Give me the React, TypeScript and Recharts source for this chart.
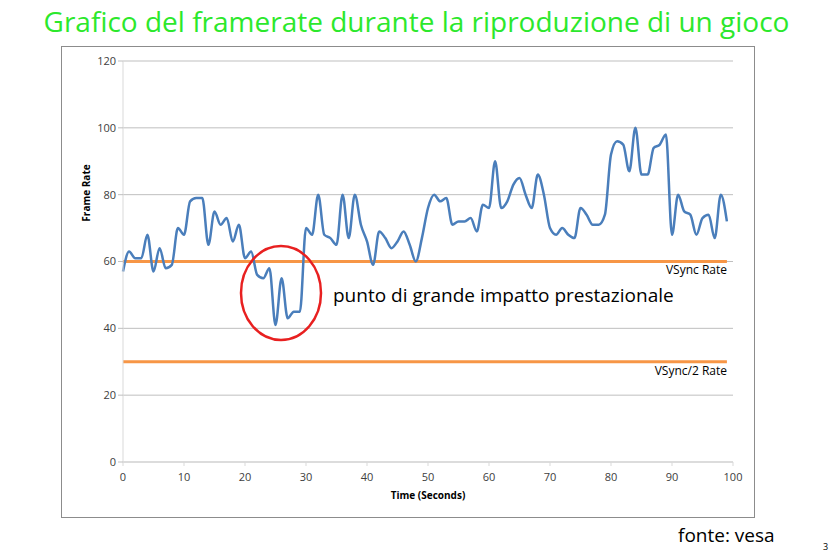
import { LineChart, Line, XAxis, YAxis, CartesianGrid, Label } from "recharts";

// time in seconds, one sample per second
const seconds = [
  0, 1, 2, 3, 4, 5, 6, 7, 8, 9, 10, 11, 12, 13, 14, 15, 16, 17, 18, 19,
  20, 21, 22, 23, 24, 25, 26, 27, 28, 29, 30, 31, 32, 33, 34, 35, 36, 37, 38, 39,
  40, 41, 42, 43, 44, 45, 46, 47, 48, 49, 50, 51, 52, 53, 54, 55, 56, 57, 58, 59,
  60, 61, 62, 63, 64, 65, 66, 67, 68, 69, 70, 71, 72, 73, 74, 75, 76, 77, 78, 79,
  80, 81, 82, 83, 84, 85, 86, 87, 88, 89, 90, 91, 92, 93, 94, 95, 96, 97, 98, 99,
];

const frameRate = [
  57, 63, 61, 61, 68, 57, 64, 58, 59, 70, 68, 78, 79, 79, 65, 75, 71, 73, 66, 71,
  61, 63, 56, 55, 58, 41, 55, 43, 45, 45, 70, 68, 80, 68, 67, 65, 80, 67, 80, 71,
  66, 59, 69, 67, 64, 66, 69, 65, 60, 67, 76, 80, 78, 79, 71, 72, 72, 73, 69, 77,
  76, 90, 76, 78, 83, 85, 80, 76, 86, 80, 70, 68, 70, 68, 67, 76, 74, 71, 71, 74,
  92, 96, 95, 87, 100, 86, 86, 94, 95, 98, 68, 80, 75, 74, 68, 73, 74, 67, 80, 72,
];

const vsyncRate = 60;
const halfVsyncRate = 30;

const yTicks = [0, 20, 40, 60, 80, 100, 120];
const xTicks = [0, 10, 20, 30, 40, 50, 60, 70, 80, 90, 100];

const data = seconds.map((t, i) => ({
  t,
  fps: frameRate[i],
  vsync: vsyncRate,
  half: halfVsyncRate,
}));

const FONT = "'Open Sans', 'Liberation Sans', sans-serif";
const BLUE = "#4A7EBB";
const ORANGE = "#F79646";
const GRID = "#BFBFBF";
const AXIS = "#D9D9D9";

export default function App() {
  return (
    <div
      style={{
        position: "absolute",
        left: 0,
        top: 0,
        width: 833,
        height: 555,
        background: "#fff",
        fontFamily: FONT,
        overflow: "hidden",
      }}
    >
      <div
        style={{
          position: "absolute",
          left: 0,
          top: 2,
          width: 833,
          textAlign: "center",
          fontSize: 28,
          color: "#2CE82C",
          lineHeight: "38px",
        }}
      >
        Grafico del framerate durante la riproduzione di un gioco
      </div>

      {/* chart frame */}
      <div
        style={{
          position: "absolute",
          left: 61,
          top: 46,
          width: 692,
          height: 470,
          border: "1px solid #8C8C8C",
        }}
      />

      <div style={{ position: "absolute", left: 0, top: 0 }}>
        <LineChart
          width={833}
          height={555}
          data={data}
          margin={{ top: 61, right: 100, bottom: 63, left: 83 }}
        >
          <CartesianGrid vertical={false} stroke={GRID} />
          <XAxis
            dataKey="t"
            type="number"
            domain={[0, 100]}
            ticks={xTicks}
            height={30}
            stroke={AXIS}
            tickSize={4}
            tick={{ fill: "#404040", fontSize: 11, fontFamily: FONT, dy: 5 }}
          >
            <Label
              value="Time (Seconds)"
              position="insideBottom"
              offset={-7}
              style={{ fontSize: 10, fontWeight: 700, fill: "#000", fontFamily: FONT }}
            />
          </XAxis>
          <YAxis
            domain={[0, 120]}
            ticks={yTicks}
            width={40}
            stroke={AXIS}
            tickSize={5}
            tickLine={{ stroke: GRID }}
            tick={{ fill: "#404040", fontSize: 11, fontFamily: FONT }}
          />
          <Line
            dataKey="half"
            stroke={ORANGE}
            strokeWidth={3}
            dot={false}
            isAnimationActive={false}
          />
          <Line
            dataKey="vsync"
            stroke={ORANGE}
            strokeWidth={3}
            dot={false}
            isAnimationActive={false}
          />
          <Line
            type="monotone"
            dataKey="fps"
            stroke={BLUE}
            strokeWidth={2.5}
            dot={false}
            isAnimationActive={false}
          />
        </LineChart>
      </div>

      <svg
        width={833}
        height={555}
        style={{ position: "absolute", left: 0, top: 0, pointerEvents: "none" }}
      >
        <text
          x={0}
          y={0}
          transform="translate(90,193) rotate(-90)"
          textAnchor="middle"
          fontSize={10}
          fontWeight={700}
          fontFamily={FONT}
        >
          Frame Rate
        </text>
        <text x={727} y={274} textAnchor="end" fontSize={12} fontFamily={FONT} fill="#000">
          VSync Rate
        </text>
        <text x={727} y={375} textAnchor="end" fontSize={12} fontFamily={FONT} fill="#000">
          VSync/2 Rate
        </text>
        <ellipse cx={281} cy={293} rx={40} ry={47} fill="none" stroke="#E82020" strokeWidth={2.5} />
        <text x={333} y={302} fontSize={19} fontFamily={FONT} fill="#000">
          punto di grande impatto prestazionale
        </text>
        <text x={678} y={542} fontSize={19} fontFamily={FONT} fill="#000">
          fonte: vesa
        </text>
        <text x={823} y={550} fontSize={9} fontFamily={FONT} fill="#000">
          3
        </text>
      </svg>
    </div>
  );
}
